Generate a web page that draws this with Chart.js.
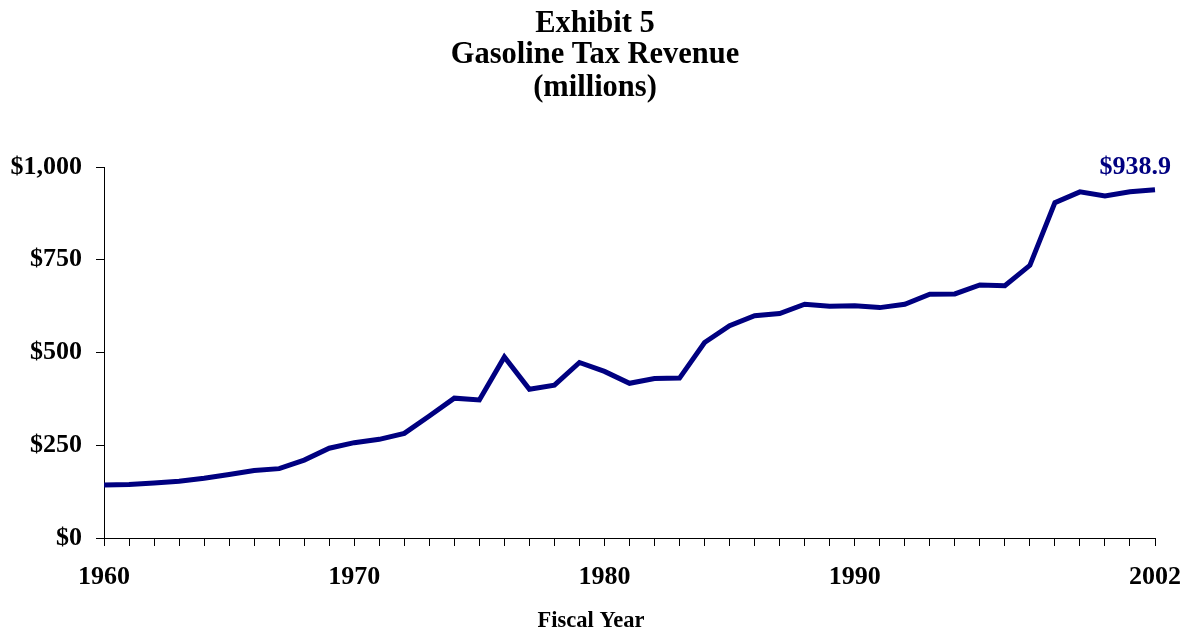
<!DOCTYPE html>
<html>
<head>
<meta charset="utf-8">
<script src="https://cdn.jsdelivr.net/npm/chart.js@4/dist/chart.umd.min.js"></script>
<style>
  html, body { margin: 0; padding: 0; background: #fff; }
  canvas { display: block; }
</style>
</head>
<body>
<canvas id="c" width="1188" height="630"></canvas>
<script>
const years = ['1960','1961','1962','1963','1964','1965','1966','1967','1968','1969',
  '1970','1971','1972','1973','1974','1975','1976','1977','1978','1979',
  '1980','1981','1982','1983','1984','1985','1986','1987','1988','1989',
  '1990','1991','1992','1993','1994','1995','1996','1997','1998','1999',
  '2000','2001','2002'];
const revenue = [143,144,148,153,161,171,182,187,210,242,
  257,266,282,329,377,372,488,401,412,473,
  449,417,430,431,527,572,599,605,630,625,
  626,621,630,657,658,682,680,735,904,933,
  922,933,938.9];
const shownYearLabels = ['1960','1970','1980','1990','2002'];
const yTickValues = [0,250,500,750,1000];
const titleLines = ['Exhibit 5','Gasoline Tax Revenue','(millions)'];
const xAxisTitle = 'Fiscal Year';
const lastValueLabel = '$938.9';

const FONT = '"Liberation Serif", "Times New Roman", serif';
const NAVY = '#000080';

const overlay = {
  id: 'overlay',
  afterDraw(chart) {
    const ctx = chart.ctx;
    ctx.save();
    ctx.fillStyle = '#000';
    ctx.font = 'bold 30.5px ' + FONT;
    ctx.textAlign = 'center';
    ctx.textBaseline = 'alphabetic';
    const baselines = [32, 63, 96];
    titleLines.forEach((t, i) => ctx.fillText(t, 595, baselines[i]));
    // x axis title
    ctx.font = 'bold 22.5px ' + FONT;
    ctx.fillText(xAxisTitle, 591, 627);
    // last value label
    const xs = chart.scales.x, ys = chart.scales.y;
    const li = revenue.length - 1;
    const px = xs.getPixelForValue(li);
    const py = ys.getPixelForValue(revenue[li]);
    ctx.fillStyle = NAVY;
    ctx.font = 'bold 26px ' + FONT;
    ctx.textAlign = 'right';
    ctx.fillText(lastValueLabel, px + 16, py - 16);
    ctx.restore();
  }
};

new Chart(document.getElementById('c'), {
  type: 'line',
  data: {
    labels: years,
    datasets: [{
      data: revenue,
      borderColor: NAVY,
      backgroundColor: NAVY,
      borderWidth: 5,
      pointRadius: 0,
      tension: 0,
      fill: false
    }]
  },
  options: {
    responsive: false,
    animation: false,
    layout: { padding: { top: 167, right: 33, left: 0, bottom: 0 } },
    plugins: {
      legend: { display: false },
      tooltip: { enabled: false },
      title: { display: false }
    },
    scales: {
      x: {
        type: 'category',
        offset: false,
        afterFit(scale) { scale.height = 92; scale.paddingLeft = 0; scale.paddingRight = 0; },
        grid: { display: true, drawOnChartArea: false, drawTicks: true, tickLength: 8, color: '#000', lineWidth: 1 },
        border: { display: true, color: '#000', width: 1 },
        ticks: {
          autoSkip: false,
          maxRotation: 0,
          minRotation: 0,
          padding: 16,
          color: '#000',
          font: { family: FONT, size: 26, weight: 'bold' },
          callback(value) {
            const l = this.getLabelForValue(value);
            return shownYearLabels.includes(l) ? l : '';
          }
        },
        title: { display: false }
      },
      y: {
        min: 0,
        max: 1000,
        afterFit(scale) { scale.width = 104; scale.paddingTop = 0; scale.paddingBottom = 0; },
        afterBuildTicks(scale) { scale.ticks = yTickValues.map(v => ({ value: v })); },
        grid: { display: true, drawOnChartArea: false, drawTicks: true, tickLength: 8, color: '#000', lineWidth: 1 },
        border: { display: true, color: '#000', width: 1 },
        ticks: {
          padding: 14,
          color: '#000',
          font: { family: FONT, size: 26, weight: 'bold' },
          callback(v) { return '$' + Number(v).toLocaleString('en-US'); }
        }
      }
    }
  },
  plugins: [overlay]
});
</script>
</body>
</html>
